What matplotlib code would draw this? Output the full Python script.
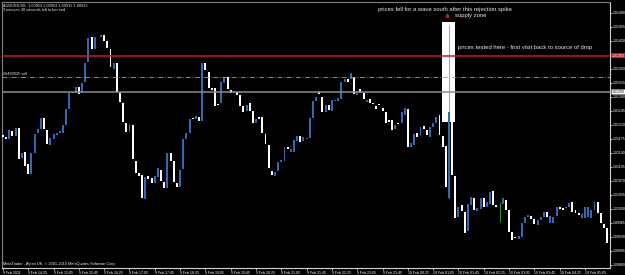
import matplotlib
matplotlib.use("Agg")
import matplotlib.pyplot as plt
import matplotlib.transforms as mtransforms
import numpy as np
import pandas as pd

# AUDUSD M5 candles (open / close)
opens = [
    1.01185, 1.01180, 1.01175, 1.01195, 1.01183, 1.01203, 1.01128, 1.01143, 1.01113, 1.01088,
    1.01140, 1.01190, 1.01200, 1.01228, 1.01198, 1.01160, 1.01175, 1.01185, 1.01190, 1.01190,
    1.01210, 1.01250, 1.01290, 1.01290, 1.01305, 1.01290, 1.01318, 1.01368, 1.01430, 1.01400,
    1.01430, 1.01430, 1.01435, 1.01420, 1.01400, 1.01350, 1.01365, 1.01290, 1.01265, 1.01215,
    1.01193, 1.01210, 1.01120, 1.01090, 1.01085, 1.01025, 1.01083, 1.01078, 1.01065, 1.01080,
    1.01098, 1.01068, 1.01053, 1.01140, 1.01120, 1.01065, 1.01055, 1.01100, 1.01175, 1.01190,
    1.01228, 1.01225, 1.01230, 1.01220, 1.01365, 1.01343, 1.01303, 1.01303, 1.01263, 1.01265,
    1.01315, 1.01330, 1.01298, 1.01290, 1.01293, 1.01285, 1.01258, 1.01245, 1.01265, 1.01245,
    1.01215, 1.01230, 1.01230, 1.01188, 1.01160, 1.01095, 1.01083, 1.01095, 1.01118, 1.01120,
    1.01155, 1.01143, 1.01143, 1.01170, 1.01183, 1.01170, 1.01175, 1.01178, 1.01228, 1.01270,
    1.01293, 1.01280, 1.01243, 1.01260, 1.01245, 1.01270, 1.01270, 1.01275, 1.01318, 1.01325,
    1.01325, 1.01330, 1.01285, 1.01300, 1.01290, 1.01268, 1.01275, 1.01263, 1.01258, 1.01263,
    1.01253, 1.01243, 1.01223, 1.01223, 1.01200, 1.01213, 1.01215, 1.01235, 1.01250, 1.01155,
    1.01160, 1.01190, 1.01183, 1.01208, 1.01198, 1.01180, 1.01205, 1.01215, 1.01235, 1.01183,
    1.01158, 1.01028, 1.01243, 1.01083, 1.00980, 1.01010, 1.00993, 1.00945, 1.01010, 1.01028,
    1.00995, 1.01000, 1.01028, 1.01005, 1.01013, 1.01045, 1.01010, 1.01010, 1.01013, 1.01023,
    1.00998, 1.00943, 1.00928, 1.00925, 1.00930, 1.00965, 1.00980, 1.00983, 1.00975, 1.00960,
    1.00973, 1.00980, 1.00993, 1.00965, 1.00965, 1.00983, 1.01005, 1.01003, 1.01003, 1.01005,
    1.01018, 1.00998, 1.00990, 1.00978, 1.00978, 1.00980, 1.00978, 1.00998, 1.01018, 1.00990,
    1.00963, 1.00953,
]
closes = [
    1.01180, 1.01175, 1.01198, 1.01183, 1.01203, 1.01125, 1.01140, 1.01108, 1.01088, 1.01140,
    1.01188, 1.01200, 1.01228, 1.01200, 1.01163, 1.01178, 1.01188, 1.01190, 1.01195, 1.01210,
    1.01250, 1.01290, 1.01293, 1.01305, 1.01288, 1.01315, 1.01365, 1.01428, 1.01400, 1.01430,
    1.01430, 1.01435, 1.01420, 1.01403, 1.01355, 1.01365, 1.01293, 1.01268, 1.01218, 1.01193,
    1.01213, 1.01125, 1.01090, 1.01083, 1.01028, 1.01080, 1.01075, 1.01065, 1.01083, 1.01103,
    1.01070, 1.01053, 1.01140, 1.01120, 1.01068, 1.01055, 1.01098, 1.01175, 1.01190, 1.01225,
    1.01225, 1.01233, 1.01220, 1.01365, 1.01348, 1.01303, 1.01298, 1.01258, 1.01260, 1.01318,
    1.01330, 1.01300, 1.01290, 1.01295, 1.01285, 1.01258, 1.01243, 1.01260, 1.01245, 1.01215,
    1.01225, 1.01225, 1.01190, 1.01163, 1.01103, 1.01085, 1.01093, 1.01118, 1.01123, 1.01155,
    1.01150, 1.01150, 1.01173, 1.01183, 1.01168, 1.01180, 1.01178, 1.01228, 1.01270, 1.01280,
    1.01288, 1.01243, 1.01260, 1.01248, 1.01273, 1.01273, 1.01278, 1.01318, 1.01325, 1.01318,
    1.01340, 1.01288, 1.01295, 1.01290, 1.01275, 1.01273, 1.01265, 1.01263, 1.01250, 1.01260,
    1.01245, 1.01215, 1.01218, 1.01198, 1.01210, 1.01213, 1.01243, 1.01253, 1.01155, 1.01165,
    1.01188, 1.01180, 1.01205, 1.01200, 1.01185, 1.01205, 1.01215, 1.01230, 1.01185, 1.01155,
    1.01055, 1.01243, 1.01085, 1.00978, 1.01005, 1.00995, 1.00940, 1.01013, 1.01030, 1.00998,
    1.01003, 1.01028, 1.01005, 1.01018, 1.01043, 1.01010, 1.01005, 1.01010, 1.01028, 1.00998,
    1.00943, 1.00923, 1.00928, 1.00933, 1.00965, 1.00980, 1.00985, 1.00975, 1.00963, 1.00973,
    1.00980, 1.00993, 1.00980, 1.00983, 1.00980, 1.01005, 1.01000, 1.00998, 1.01005, 1.01015,
    1.00993, 1.00990, 1.00985, 1.00988, 1.01005, 1.01005, 1.00998, 1.01018, 1.00990, 1.00965,
    1.00953, 1.00915,
]
# visible shadows: bar -> (high, low, colour)
wicks = {141: (1.01460, 1.01028, "#a8a8a8"), 157: (1.01018, 1.00968, "#2e8b2e")}

start_time = "2011-02-09 13:45"
price_ticks = [1.01490, 1.01455, 1.01420, 1.01385, 1.01350, 1.01315, 1.01280, 1.01245,
               1.01210, 1.01175, 1.01140, 1.01105, 1.01070, 1.01035, 1.01000, 1.00965,
               1.00930, 1.00895, 1.00860]
red_level = 1.01383
sell_level = 1.01330
gray_level = 1.01293
# supply zone box (bars, prices)
zone_left, zone_right = 138.8, 142.9
zone_top, zone_bottom = 1.01468, 1.01218

bull = "#3468b4"
bear = "#ffffff"

plt.rcParams['font.family'] = ['Liberation Sans', 'DejaVu Sans']

fig = plt.figure(figsize=(6.25, 2.75), dpi=100, facecolor="black")
ax = fig.add_axes([2/625, 7/275, 608/625, 266/275], facecolor="black")

o = np.array(opens)
c = np.array(closes)
x = np.arange(len(o))
up = c > o
lo = np.minimum(o, c)
h = np.maximum(np.abs(c - o), 0.000008)

# zone box sits under the candles
ax.fill_between([zone_left, zone_right], zone_bottom, zone_top, color="white", lw=0, zorder=1)

for i, (hi, lw_, col) in wicks.items():
    ax.vlines(i, lw_, hi, color=col, lw=0.8, zorder=2)

ax.bar(x[up], h[up], bottom=lo[up], width=0.62, color=bull, linewidth=0, zorder=3)
dn = ~up
dn_cols = [wicks[i][2] if (i in wicks and o[i] == c[i]) else bear for i in x[dn]]
ax.bar(x[dn], h[dn], bottom=lo[dn], width=0.62, color=dn_cols, linewidth=0, zorder=3)

# horizontal levels
ax.axhline(red_level, color="#d01818", lw=1.1, zorder=4)
ax.axhline(sell_level, color="#a0a0a0", lw=0.6, ls=(0, (6, 2, 1, 2)), zorder=4)
ax.axhline(gray_level, color="#8c8c8c", lw=1.1, zorder=4)

ax.set_xlim(-0.3, 191.9)
ax.set_ylim(1.008525, 1.015175)

# time axis
times = pd.date_range(start_time, periods=len(o), freq="5min")
tick_idx = list(range(0, len(o), 8))
tick_lab = []
for i in tick_idx:
    t = times[i]
    if i == 0:
        tick_lab.append(f"{t.day} Feb {t.year}")
    else:
        tick_lab.append(f"{t.day} Feb {t:%H:%M}")
ax.set_xticks(tick_idx)
ax.set_xticklabels(tick_lab)
for lab in ax.get_xticklabels():
    lab.set_ha("left")

ax.yaxis.tick_right()
ax.set_yticks(price_ticks)
ax.set_yticklabels([f"{p:.5f}" for p in price_ticks])
ax.tick_params(axis="x", colors="white", labelsize=2.5, length=1.5, width=0.5, pad=0.4)
ax.tick_params(axis="y", colors="white", labelsize=2.5, length=1.5, width=0.5, pad=0.4)

for side in ["left", "top"]:
    ax.spines[side].set_color("#808080")
for side in ["right", "bottom"]:
    ax.spines[side].set_color("#d0d0d0")
for s in ax.spines.values():
    s.set_linewidth(0.8)

# price boxes on the scale
tr = mtransforms.blended_transform_factory(ax.transAxes, ax.transData)
ax.text(1.003, red_level, f"{red_level:.5f}", transform=tr, fontsize=2.5, color="white",
        va="center", ha="left", clip_on=False,
        bbox=dict(boxstyle="square,pad=0.2", fc="#d01818", ec="none"))
ax.text(1.003, gray_level, f"{gray_level:.5f}", transform=tr, fontsize=2.5, color="black",
        va="center", ha="left", clip_on=False,
        bbox=dict(boxstyle="square,pad=0.2", fc="white", ec="#808080", lw=0.4))

# header and labels
txt = "#e8e8e8"
ax.text(0.002, 0.995, f"AUDUSD,M5  {opens[-1]:.5f} {max(opens[-1], closes[-1]):.5f} "
        f"{min(opens[-1], closes[-1]):.5f} {closes[-1]:.5f}",
        transform=ax.transAxes, fontsize=2.8, color=txt, va="top", ha="left")
ax.text(0.002, 0.977, "3 minutes 40 seconds left to bar end", transform=ax.transAxes,
        fontsize=2.8, color=txt, va="top", ha="left")
ax.text(0.002, sell_level + 0.00003, "#0480035 sell", fontsize=2.8, color=txt,
        va="bottom", ha="left", transform=tr)
ax.text(0.002, 0.008, "MetaTrader - Alpari UK, \u00a9 2001-2010 MetaQuotes Software Corp.",
        transform=ax.transAxes, fontsize=2.8, color=txt, va="bottom", ha="left")

ax.text(139.6, 1.01498, "prices fell for a wave south after this rejection spike",
        fontsize=4.2, color=txt, ha="center", va="center")
ax.plot([140.4], [1.01484], marker="^", ms=2.2, color="#c02020", mec="#c02020", zorder=6)
ax.text(142.9, 1.01483, "supply zone", fontsize=4.2, color=txt, ha="left", va="center")
ax.text(143.8, 1.01403, "prices tested here - first visit back to source of drop",
        fontsize=4.2, color=txt, ha="left", va="center")

fig.savefig("out.png", dpi=100, facecolor="black")
